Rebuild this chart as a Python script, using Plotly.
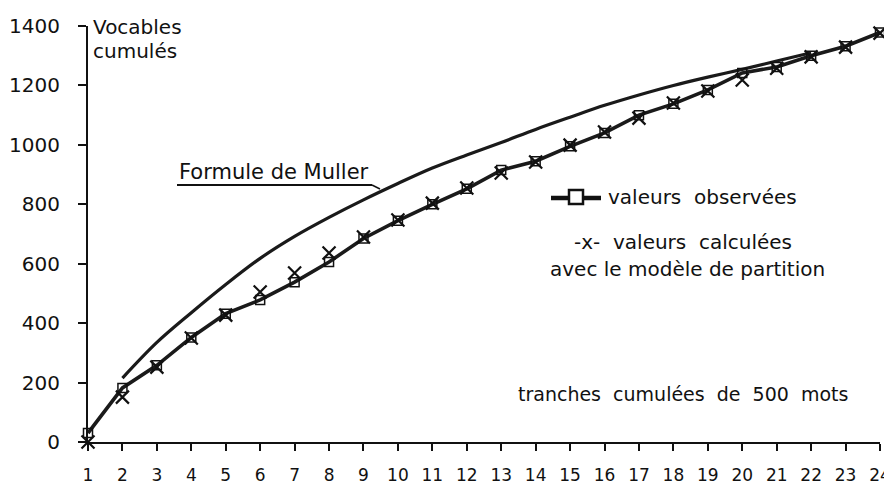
import plotly.graph_objects as go

# ---- data ----
tranches = list(range(1, 25))
observees = [30, 182, 258, 352, 432, 478, 538, 606, 685, 745, 800, 852, 915, 945,
             995, 1040, 1100, 1138, 1185, 1242, 1262, 1300, 1332, 1378]
calculees = [0, 151, 252, 350, 427, 505, 569, 636, 690, 747, 804, 855, 905, 942,
             999, 1043, 1090, 1141, 1181, 1218, 1258, 1296, 1329, 1376]
muller_x = list(range(2, 23))
muller_y = [215, 335, 435, 530, 618, 692, 756, 815, 870, 922, 966, 1008, 1052,
            1093, 1133, 1168, 1200, 1228, 1254, 1282, 1310]
y_ticks = [0, 200, 400, 600, 800, 1000, 1200, 1400]

# page has an 8px body margin: figure pixel = page pixel - 8
OFF = 8
W, H = 884, 475
L, R, T, B = 80, 12, 18, 41
pw, ph = W - L - R, H - T - B


def px(x):
    return (x - OFF - L) / pw


def py(y):
    return (H - B - (y - OFF)) / ph


FONT = "DejaVu Sans"
INK = "#111111"

fig = go.Figure()

# Muller formula curve
fig.add_trace(go.Scatter(x=muller_x, y=muller_y, mode="lines",
                         line=dict(color="#1a1a1a", width=3.2, shape="spline"),
                         showlegend=False, cliponaxis=False))
# observed values
fig.add_trace(go.Scatter(x=tranches, y=observees, mode="lines+markers",
                         line=dict(color="#1a1a1a", width=3.6),
                         marker=dict(symbol="square-open", size=9, color=INK,
                                     line=dict(width=1.5, color=INK)),
                         showlegend=False, cliponaxis=False))
# calculated values
fig.add_trace(go.Scatter(x=tranches, y=calculees, mode="markers",
                         marker=dict(symbol="x-thin-open", size=13, color=INK,
                                     line=dict(width=2.2, color=INK)),
                         showlegend=False, cliponaxis=False))

annotations = [
    dict(text="Vocables", x=px(91), y=py(27), xanchor="left", yanchor="middle",
         font=dict(size=20)),
    dict(text="cumulés", x=px(91), y=py(51), xanchor="left", yanchor="middle",
         font=dict(size=20)),
    dict(text="Formule de Muller", x=px(177), y=py(172), xanchor="left",
         yanchor="middle", font=dict(size=21)),
    dict(text="valeurs  observées", x=px(606), y=py(197), xanchor="left",
         yanchor="middle", font=dict(size=20)),
    dict(text="-x-  valeurs  calculées", x=px(683), y=py(242), xanchor="center",
         yanchor="middle", font=dict(size=20)),
    dict(text="avec le modèle de partition", x=px(687), y=py(269),
         xanchor="center", yanchor="middle", font=dict(size=20)),
    dict(text="tranches  cumulées  de  500  mots", x=px(683), y=py(394),
         xanchor="center", yanchor="middle", font=dict(size=19)),
]
for a in annotations:
    a.update(xref="paper", yref="paper", showarrow=False)
    a["font"].update(family=FONT, color=INK)

shapes = [
    # underline of "Formule de Muller" joining the curve
    dict(type="line", x0=px(177), y0=py(185), x1=px(372), y1=py(185),
         line=dict(color=INK, width=2.2)),
    dict(type="line", x0=px(372), y0=py(185), x1=px(380), y1=py(189),
         line=dict(color=INK, width=1.5)),
    # legend symbol for observed values
    dict(type="line", x0=px(551), y0=py(198), x1=px(601), y1=py(198),
         line=dict(color=INK, width=4.5)),
    dict(type="rect", x0=px(569), y0=py(190), x1=px(583), y1=py(204),
         line=dict(color=INK, width=2.5), fillcolor="white"),
]
for s in shapes:
    s.update(xref="paper", yref="paper")

fig.update_layout(
    width=W, height=H,
    margin=dict(l=L, r=R, t=T, b=B, autoexpand=False),
    paper_bgcolor="white", plot_bgcolor="white",
    font=dict(family=FONT, color=INK),
    annotations=annotations, shapes=shapes,
    showlegend=False,
)
fig.update_xaxes(range=[1, 24], tickmode="array", tickvals=tranches,
                 ticktext=[str(t) for t in tranches], automargin=False,
                 showgrid=False, zeroline=False, showline=True,
                 linecolor=INK, linewidth=2.2, ticks="outside", ticklen=7,
                 tickwidth=2, tickcolor=INK, ticklabelstandoff=9,
                 tickfont=dict(size=17, family=FONT, color=INK))
fig.update_yaxes(range=[0, 1400], tickmode="array", tickvals=y_ticks,
                 ticktext=[str(v) for v in y_ticks], automargin=False,
                 showgrid=False, zeroline=False, showline=True,
                 linecolor=INK, linewidth=2.2, ticks="outside", ticklen=8,
                 tickwidth=2, tickcolor=INK, ticklabelstandoff=14,
                 tickfont=dict(size=20, family=FONT, color=INK))

fig.write_html("out.html")
